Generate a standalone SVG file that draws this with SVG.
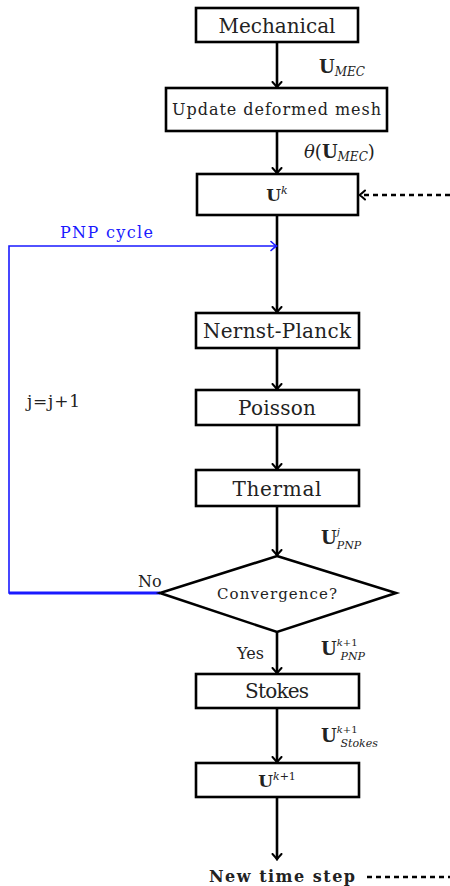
<svg xmlns="http://www.w3.org/2000/svg" width="450" height="886" viewBox="0 0 450 886">
<style>
.box{fill:#fff;stroke:#000;stroke-width:2.6}
text{font-family:"DejaVu Serif","Liberation Serif",serif;fill:#222}
.t{text-anchor:middle}
.b{font-weight:bold}
.i{font-style:italic}
.edge{fill:none;stroke:#000;stroke-width:2.6}
.dash{fill:none;stroke:#000;stroke-width:2.6;stroke-dasharray:5 4}
.blue{fill:none;stroke:#1a1aff;stroke-width:1.6}
</style>
<defs>
<marker id="ah" viewBox="-6 -6 8 12" refX="0" refY="0" markerWidth="8" markerHeight="12" markerUnits="userSpaceOnUse" orient="auto">
<path d="M-5,-4.5 Q-1.5,-1.2 0.5,0 Q-1.5,1.2 -5,4.5" fill="none" stroke="#000" stroke-width="2" stroke-linecap="round"/>
</marker>
<marker id="ahb" viewBox="-6 -6 8 12" refX="0" refY="0" markerWidth="8" markerHeight="12" markerUnits="userSpaceOnUse" orient="auto">
<path d="M-5,-4.5 Q-1.5,-1.2 0.5,0 Q-1.5,1.2 -5,4.5" fill="none" stroke="#1a1aff" stroke-width="1.6" stroke-linecap="round"/>
</marker>
</defs>

<g id="connectors">
<line class="edge" x1="277" y1="42" x2="277" y2="87" marker-end="url(#ah)"/>
<line class="edge" x1="277" y1="131" x2="277" y2="173" marker-end="url(#ah)"/>
<line class="dash" x1="450" y1="195" x2="360" y2="195" marker-end="url(#ah)"/>
<line class="edge" x1="277" y1="215" x2="277" y2="312" marker-end="url(#ah)"/>
<line class="edge" x1="277" y1="348" x2="277" y2="389" marker-end="url(#ah)"/>
<line class="edge" x1="277" y1="425" x2="277" y2="469" marker-end="url(#ah)"/>
<line class="edge" x1="277" y1="506" x2="277" y2="555" marker-end="url(#ah)"/>
<line class="edge" x1="277" y1="632" x2="277" y2="673" marker-end="url(#ah)"/>
<line class="edge" x1="277" y1="708" x2="277" y2="762" marker-end="url(#ah)"/>
<line class="edge" x1="277" y1="797" x2="277" y2="859" marker-end="url(#ah)"/>
<line class="dash" x1="367" y1="877" x2="450" y2="877"/>
<polyline class="blue" points="160,593 9,593 9,246 276,246" marker-end="url(#ahb)"/>
<line x1="9" y1="593" x2="160" y2="593" stroke="#1a1aff" stroke-width="2.8"/>
<text x="60" y="238" font-size="16" style="fill:#1a1aff" textLength="93">PNP cycle</text>
<text x="27" y="407" font-size="17" textLength="53">j=j+1</text>
<text x="138" y="587" font-size="16">No</text>
<text x="237" y="659" font-size="16">Yes</text>
<text x="319" y="73" font-size="18"><tspan class="b">U</tspan><tspan class="i" font-size="12" dy="3">MEC</tspan></text>
<text x="304" y="158" font-size="18"><tspan class="i">θ</tspan>(<tspan class="b">U</tspan><tspan class="i" font-size="12" dy="3">MEC</tspan><tspan dy="-3">)</tspan></text>
<text x="321" y="544" font-size="18"><tspan class="b">U</tspan><tspan class="i" font-size="10" dy="-9">j</tspan><tspan class="i" font-size="11" dx="-3" dy="14">PNP</tspan></text>
<text x="321" y="655" font-size="18"><tspan class="b">U</tspan><tspan class="i" font-size="10" dy="-9">k</tspan><tspan font-size="10">+1</tspan><tspan class="i" font-size="11" dx="-17" dy="14">PNP</tspan></text>
<text x="321" y="742" font-size="18"><tspan class="b">U</tspan><tspan class="i" font-size="10" dy="-9">k</tspan><tspan font-size="10">+1</tspan><tspan class="i" font-size="11" dx="-17" dy="14">Stokes</tspan></text>
</g>

<g id="mechanical">
<rect class="box" x="196" y="8" width="162" height="34"/>
<text class="t" x="277" y="33" font-size="20" textLength="117">Mechanical</text>
</g>
<g id="update-mesh">
<rect class="box" x="166" y="88" width="221" height="43"/>
<text class="t" x="276.5" y="115" font-size="16" textLength="209">Update deformed mesh</text>
</g>
<g id="uk">
<rect class="box" x="197" y="174" width="161" height="41"/>
<text class="t" x="277" y="201" font-size="17"><tspan class="b">U</tspan><tspan class="i" font-size="11" dy="-7">k</tspan></text>
</g>
<g id="nernst-planck">
<rect class="box" x="196" y="313" width="163" height="35"/>
<text class="t" x="277" y="338" font-size="20" textLength="148">Nernst-Planck</text>
</g>
<g id="poisson">
<rect class="box" x="196" y="390" width="163" height="35"/>
<text class="t" x="277" y="415" font-size="20" textLength="78">Poisson</text>
</g>
<g id="thermal">
<rect class="box" x="196" y="470" width="163" height="36"/>
<text class="t" x="277" y="496" font-size="20" textLength="89">Thermal</text>
</g>
<g id="convergence">
<polygon class="box" points="277,556 396,593 277,632 160,593"/>
<text class="t" x="277" y="599" font-size="15" textLength="120">Convergence?</text>
</g>
<g id="stokes">
<rect class="box" x="196" y="674" width="163" height="34"/>
<text class="t" x="277" y="698" font-size="20" textLength="64">Stokes</text>
</g>
<g id="uk1">
<rect class="box" x="196" y="763" width="163" height="34"/>
<text class="t" x="277" y="787" font-size="17"><tspan class="b">U</tspan><tspan class="i" font-size="11" dy="-7">k</tspan><tspan font-size="11">+1</tspan></text>
</g>
<g id="new-time-step">
<text class="b" x="209" y="882" font-size="16" textLength="146">New time step</text>
</g>
</svg>
